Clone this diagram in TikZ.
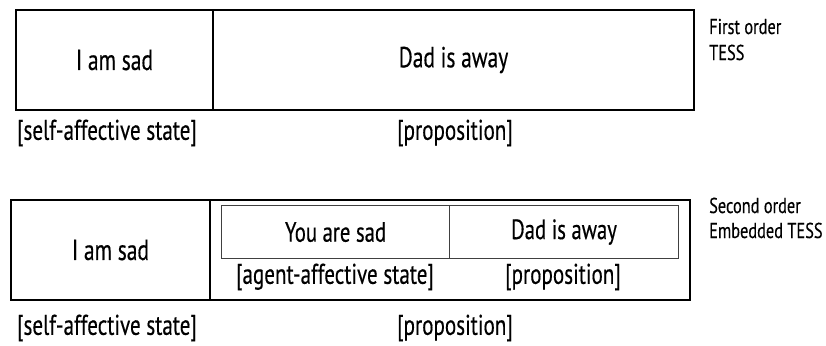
\documentclass[tikz,border=0pt]{standalone}
\usepackage{fontspec}
\setmainfont{PT Sans}[FakeStretch=0.74,FakeBold=0.4]
\newfontfamily\sidefont{PT Sans}[FakeStretch=0.76,FakeBold=0.3]
\begin{document}
\begin{tikzpicture}[x=1pt,y=-1pt,
  cell/.style={draw=black, line width=2pt, inner sep=0pt, anchor=north west,
    font=\fontsize{29}{32}\selectfont},
  subcell/.style={draw=black!75, line width=1.1pt, inner sep=0pt, anchor=north west,
    font=\fontsize{28}{31}\selectfont},
  tag/.style={inner sep=0pt, font=\fontsize{28.5}{31}\selectfont},
  side/.style={inner sep=0pt, anchor=base west, font=\sidefont\fontsize{21.5}{24}\selectfont}]
\useasboundingbox (0,0) rectangle (826,345);

% first order TESS
\node[cell, minimum width=197pt, minimum height=100pt] (fs) at (15,9) {I am sad};
\node[cell, minimum width=481pt, minimum height=100pt] (fp) at (212,9) {Dad is away};
\node[tag] (fsl) at (107,133) {[self-affective state]};
\node[tag] (fpl) at (455,133) {[proposition]};
\node[side] (f1) at (709,34) {First order};
\node[side] (f2) at (709,60) {TESS};

% second order embedded TESS
\node[cell, minimum width=199pt, minimum height=100pt] (ss) at (10,199) {I am sad};
\node[cell, minimum width=480pt, minimum height=100pt] (sp) at (209,199) {};
\node[subcell, minimum width=228pt, minimum height=53pt] (ia) at (221,205) {You are sad};
\node[subcell, minimum width=229pt, minimum height=53pt] (ip) at (449,205) {Dad is away};
\node[tag] (ial) at (335,277) {[agent-affective state]};
\node[tag] (ipl) at (563,277) {[proposition]};
\node[tag] (ssl) at (107,328) {[self-affective state]};
\node[tag] (spl) at (455,328) {[proposition]};
\node[side] (s1) at (709,213) {Second order};
\node[side] (s2) at (709,238) {Embedded TESS};
\end{tikzpicture}
\end{document}
